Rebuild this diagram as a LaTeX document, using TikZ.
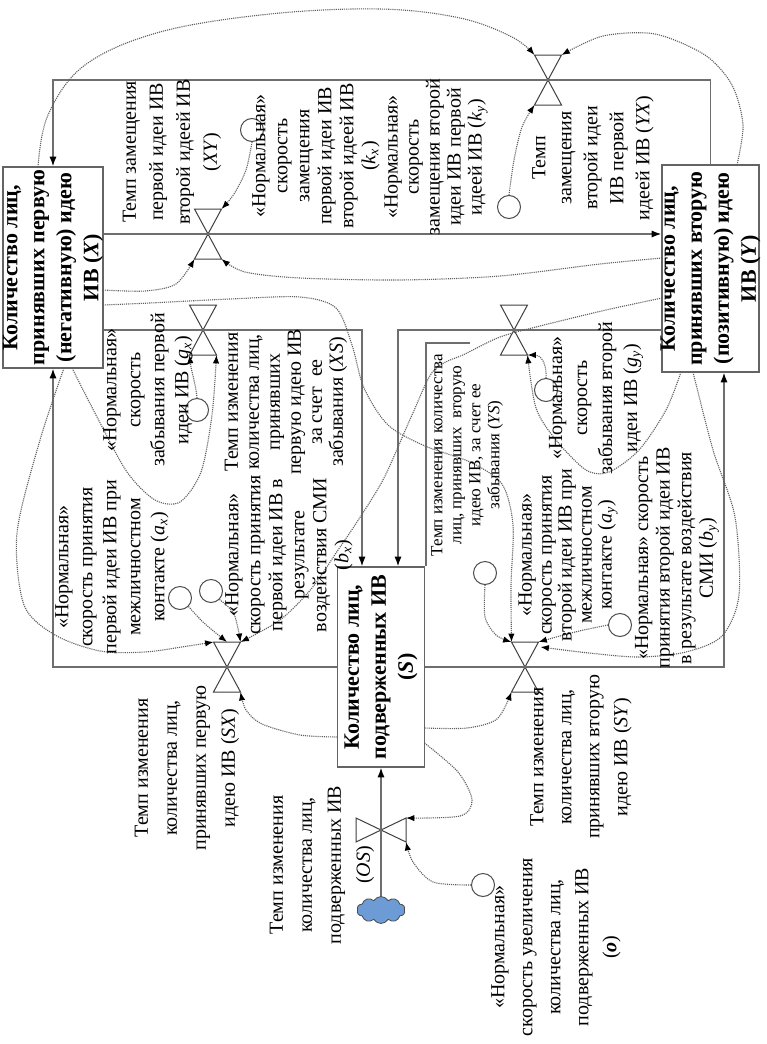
\documentclass[tikz,border=0pt]{standalone}
\usepackage{fontspec}
\setmainfont{Liberation Serif}
\usetikzlibrary{arrows.meta,shapes.symbols,calc}
\definecolor{boxgray}{RGB}{100,100,100}
\definecolor{flowgray}{RGB}{110,110,110}
\definecolor{linkgray}{RGB}{95,95,95}
\definecolor{cloudblue}{RGB}{108,155,214}
\newcommand{\valveH}[3]{%
  \path (#2,#3) coordinate (#1)
    ++(-13.5,-25) coordinate (#1-tl)
    ++(27,0) coordinate (#1-tr)
    ++(-27,50) coordinate (#1-bl)
    ++(27,0) coordinate (#1-br);
  \path (#2,#3) ++(0,-25) coordinate (#1-t) ++(0,50) coordinate (#1-b);
  \draw[valvestyle] (#1-tl) -- (#1-tr) -- (#1-bl) -- (#1-br) -- cycle;}
\newcommand{\sub}[2]{\textit{#1}\textsubscript{\textit{#2}}}
\begin{document}
\begin{tikzpicture}[x=0.5pt,y=-0.5pt,
  stock/.style={draw=boxgray, line width=0.8pt, rectangle, inner sep=0pt},
  flowarr/.style={draw=flowgray, line width=0.65pt, -{Latex[length=4.8pt,width=3.6pt,color=black]}},
  thinline/.style={draw=flowgray, line width=0.6pt},
  link/.style={draw=linkgray, line width=0.55pt, dash pattern=on 0.55pt off 0.5pt, -{Latex[length=4.2pt,width=3.2pt,color=black]}},
  valvestyle/.style={draw=black!75, line width=0.5pt},
  aux/.style={circle, draw=black!70, line width=0.5pt, minimum size=11.5pt, inner sep=0pt},
  lbl/.style={rotate=90, align=center, inner sep=0pt},
  boxlbl/.style={rotate=90, align=center, inner sep=0pt, font=\bfseries\fontsize{11}{13.5}\selectfont},
]
\fill[white] (0,0) rectangle (766,1044);
\useasboundingbox (0,0) rectangle (766,1044);

% stocks
\node[stock, minimum width=50pt, minimum height=100.5pt] (X) at (53,267.5) {};
\node[stock, minimum width=48.5pt, minimum height=103.5pt] (Y) at (710.5,268.5) {};
\node[stock, minimum width=43.5pt, minimum height=100pt] (S) at (381,667) {};
\node[boxlbl] (Xt) at (X) {Количество лиц,\\ принявших первую\\ (негативную) идею\\ ИВ (\textit{X})};
\node[boxlbl] (Yt) at (Y) {Количество лиц,\\ принявших вторую\\ (позитивную) идею\\ ИВ (\textit{Y})};
\node[boxlbl] (St) at (S) {Количество лиц,\\ подверженных ИВ\\ (\textit{S})};

% cloud
\node[cloud, cloud puffs=10, cloud puff arc=120, aspect=1.8, draw=black!70, line width=0.4pt, fill=cloudblue, minimum width=24pt, minimum height=13.5pt, inner sep=0pt] (cl) at (381,910) {};

% valves
\valveH{vXY}{208}{234}
\valveH{vYX}{548}{80}
\valveH{vXS}{203}{330}
\valveH{vYS}{514}{330}
\valveH{vSX}{227}{667}
\valveH{vSY}{525}{667}
\path (381,830) coordinate (vOS)
  ++(-25,-12) coordinate (vOS-lt) ++(0,24) coordinate (vOS-lb)
  ++(50,-24) coordinate (vOS-rt) ++(0,24) coordinate (vOS-rb);
\draw[valvestyle] (vOS-lt) -- (vOS-lb) -- (vOS-rt) -- (vOS-rb) -- cycle;

% attachment points
\path (S.north) ++(-19,0) coordinate (S-in1) ++(36,0) coordinate (S-in2);
\path (Y.south) ++(13.5,0) coordinate (Y-in);
\coordinate (X-t1) at (38,167);
\coordinate (X-r1) at (103,290);
\coordinate (X-r2) at (103,305);
\coordinate (X-b1) at (72,368);
\coordinate (X-b2) at (64,368);
\coordinate (Y-t1) at (737,165);
\coordinate (Y-l1) at (662,258);
\coordinate (Y-l2) at (662,298);
\coordinate (Y-b1) at (681,372);
\coordinate (Y-b2) at (693,372);
\coordinate (S-l1) at (337.5,737);
\coordinate (S-r1) at (424.5,728);
\coordinate (S-r2) at (424.5,743);
\coordinate (fr1) at (470,343);
\coordinate (fr2) at (426,343);

% flows
\draw[flowarr] (X.east |- vXY) -- (Y.west |- vXY);
\draw[flowarr] (Y.north) |- (vYX) -| (X.north);
\draw[flowarr] (X.east |- vXS) -| (S-in1);
\draw[flowarr] (Y.west |- vYS) -| (S-in2);
\draw[flowarr] (S.west) -| (X.south);
\draw[flowarr] (S.east) -| (Y-in);
\draw[flowarr] (cl.north) -- (S.south);
\draw[thinline] (fr1) -- (fr2) -- (fr2 |- S.north);

% auxiliaries
\node[aux] (kx) at (252,130) {};
\node[aux] (ky) at (509,207) {};
\node[aux] (gx) at (197,410) {};
\node[aux] (gy) at (546,390) {};
\node[aux] (ax) at (180,598) {};
\node[aux] (bx) at (211,591) {};
\node[aux] (ay) at (485,573) {};
\node[aux] (by) at (620,625) {};
\node[aux] (o) at (483,885) {};

% information links
\draw[link] plot[smooth, tension=0.6] coordinates {(X-t1) (48,115) (85,65) (160,32) (270,14) (380,9) (460,18) (512,37) (vYX-tl)};
\draw[link] plot[smooth] coordinates {(Y-t1) (743,125) (732,85) (705,55) (655,34) (603,36) (vYX-tr)};
\draw[link] plot[smooth] coordinates {(X-r1) (145,291) (176,284) (vXY-bl)};
\draw[link] plot[smooth] coordinates {(Y-l1) (600,264) (500,276) (400,280) (300,278) (245,272) (vXY-br)};
\draw[link] plot[smooth] coordinates {(kx.south) (246,170) (234,194) (vXY-tr)};
\draw[link] plot[smooth] coordinates {(ky.north) (514,160) (522,127) (vYX-bl)};
\draw[link] plot[smooth] coordinates {(X-r2) (150,303) (230,299) (300,297) (336,308) (352,345) (364,388) (388,425) (425,446) (470,462) (502,484) (513,525) (511,585) (vSY-tl)};
\draw[link] plot[smooth] coordinates {(Y-l2) (606,310) (540,326) (500,337) (465,354) (434,370) (412,415) (384,478) (357,522) (338,550) (312,588) (280,620) (vSX-tr)};
\draw[link] (gx.north) .. controls (196,385) and (191,370) .. (vXS-bl);
\draw[link] plot[smooth] coordinates {(X-b1) (97,417) (127,472) (155,500) (180,502) (201,472) (212,415) (vXS-br)};
\draw[link] plot[smooth] coordinates {(X-b2) (40,440) (17,533) (24,605) (55,635) (100,651) (145,652) (188,646) (vSX-tl)};
\draw[link] plot[smooth] coordinates {(ax.south east) (204,623) (vSX-t)};
\draw[link] plot[smooth] coordinates {(bx.south east) (234,614) (vSX-tr)};
\draw[link] plot[smooth] coordinates {(S-l1) (300,735) (262,724) (246,710) (vSX-br)};
\draw[link] plot[smooth] coordinates {(S-r1) (467,728) (497,719) (vSY-bl)};
\draw[link] (gy.north) .. controls (547,362) and (540,355) .. (vYS-br);
\draw[link] plot[smooth] coordinates {(Y-b1) (666,410) (639,450) (609,472) (586,470) (556,440) (536,408) (vYS-br)};
\draw[link] plot[smooth] coordinates {(Y-b2) (713,450) (735,517) (739,595) (722,636) (686,652) (639,657) (589,653) ($(vSY-tr)+(2,5)$)};
\draw[link] plot[smooth] coordinates {(by.west) (575,632) (vSY-tr)};
\draw[link] plot[smooth] coordinates {(ay.south) (485,617) (496,635) (vSY-tl)};
\draw[link] plot[smooth] coordinates {(S-r2) (458,772) (472,800) (460,816) (vOS-rt)};
\draw[link] plot[smooth] coordinates {(o.west) (433,882) (413,862) (vOS-rb)};

% labels
\node[lbl, font=\fontsize{10}{13.5}\selectfont] (tXY) at (172,152) {Темп замещения\\ первой идеи ИВ\\ второй идеей ИВ\\ (\textit{XY})};
\node[lbl, font=\fontsize{10}{11}\selectfont] (tkx) at (316,156) {«Нормальная»\\ скорость\\ замещения\\ первой идеи ИВ\\ второй идеей ИВ\\ (\sub{k}{x})};
\node[lbl, font=\fontsize{10}{10.5}\selectfont] (tky) at (436,157) {«Нормальная»\\ скорость\\ замещения второй\\ идеи ИВ первой\\ идеей ИВ (\sub{k}{y})};
\node[lbl, font=\fontsize{10}{13}\selectfont] (tYX) at (593,158) {Темп\\ замещения\\ второй идеи\\ ИВ первой\\ идеей ИВ (\textit{YX})};
\node[lbl, font=\fontsize{10}{12}\selectfont] (tgx) at (148,390) {«Нормальная»\\ скорость\\ забывания первой\\ идеи ИВ (\sub{g}{x})};
\node[lbl, font=\fontsize{10}{10.5}\selectfont] (tXS) at (286,402) {Темп изменения\\ количества лиц,\\ принявших\\ первую идею ИВ\\ за счет~~ее\\ забывания (\textit{XS})};
\node[lbl, font=\fontsize{10}{11}\selectfont] (tbx) at (289,555) {«Нормальная»\\ скорость принятия\\ первой идеи ИВ в\\ результате\\ воздействия СМИ\\ (\sub{b}{x})};
\node[lbl, font=\fontsize{10}{12}\selectfont] (tax) at (112,567) {«Нормальная»\\ скорость принятия\\ первой идеи ИВ при\\ межличностном\\ контакте (\sub{a}{x})};
\node[lbl, font=\fontsize{10}{14.5}\selectfont] (tSX) at (187,768) {Темп изменения\\ количества лиц,\\ принявших первую\\ идею ИВ (\textit{SX})};
\node[lbl, font=\fontsize{10}{14.5}\selectfont] (tOS) at (322,865) {Темп изменения\\ количества лиц,\\ подверженных ИВ\\ (\textit{OS})};
\node[lbl, font=\fontsize{10}{14}\selectfont] (to) at (556,947) {«Нормальная»\\ скорость увеличения\\ количества лиц,\\ подверженных ИВ\\ (\textbf{\textit{o}})};
\node[lbl, font=\fontsize{10}{14}\selectfont] (tSY) at (581,757) {Темп изменения\\ количества лиц,\\ принявших вторую\\ идею ИВ (\textit{SY})};
\node[lbl, font=\fontsize{8.5}{9.5}\selectfont] (tYS) at (467,455) {Темп изменения количества\\ лиц, принявших~~вторую\\ идею ИВ, за счет ее\\ забывания (\textit{YS})};
\node[lbl, font=\fontsize{10}{12.5}\selectfont] (tgy) at (596,398) {«Нормальная»\\ скорость\\ забывания второй\\ идеи ИВ (\sub{g}{y})};
\node[lbl, font=\fontsize{10}{10}\selectfont] (tay) at (568,555) {«Нормальная»\\ скорость принятия\\ второй идеи ИВ при\\ межличностном\\ контакте (\sub{a}{y})};
\node[lbl, font=\fontsize{10}{10.8}\selectfont] (tby) at (677,558) {«Нормальная» скорость\\ принятия второй идеи ИВ\\ в результате воздействия\\ СМИ (\sub{b}{y})};
\end{tikzpicture}
\end{document}
